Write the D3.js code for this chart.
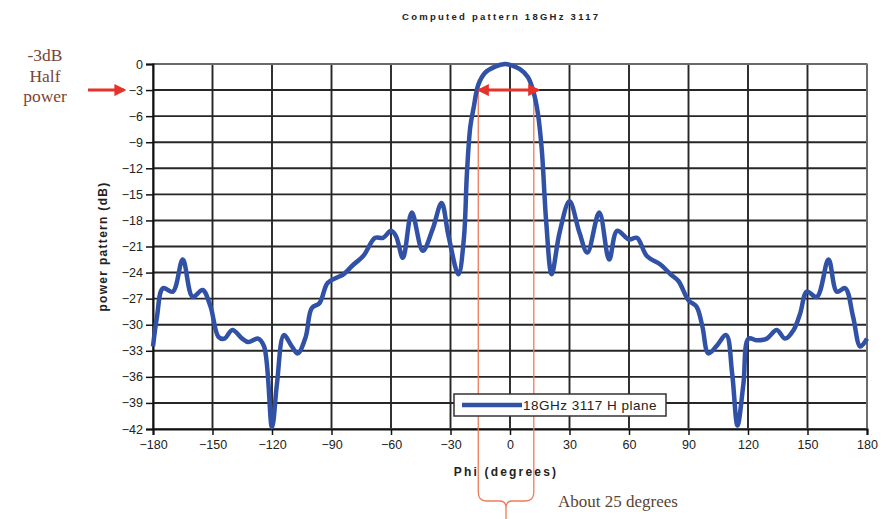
<!DOCTYPE html>
<html>
<head>
<meta charset="utf-8">
<script src="https://cdn.jsdelivr.net/npm/d3@7"></script>
<style>
  body { margin: 0; background: #fff; }
</style>
</head>
<body>
<div id="chart"></div>
<script>
// angle (degrees) and power (dB)
const phi = [-180, -178, -175, -170, -165, -160, -155, -151, -147, -144, -140, -135, -132, -127, -124,
  -120, -117.5, -114, -110, -107, -103, -100, -96, -92, -87.5, -84, -79, -74, -68, -64, -60, -57.5,
  -54, -49.5, -44, -39, -34.5, -31, -26, -23.3, -21.7, -20, -18.3, -16, -12.5, -7.5, -2.5, 0,
  5, 9, 11.7, 14, 16, 18.3, 21, 25, 30, 35, 39, 45, 50, 54, 60, 64, 69, 76, 81, 85, 90, 94, 97,
  100, 104, 109, 112, 114.7, 117.7, 120.3, 124.5, 129.5, 134.5, 138.7, 143, 146.3, 149.7, 154.7,
  160.6, 164.8, 169, 173, 176.6, 180];
const power = [-32.5, -29.1, -25.8, -26.2, -22.5, -26.8, -26, -27.9, -31.4, -31.6, -30.6, -31.6, -32, -31.6, -32.5,
  -41.8, -36.8, -31.2, -32.5, -33.3, -31.4, -28.1, -27.5, -25.2, -24.6, -24.2, -23.1, -22.1, -20, -20, -19.2, -19.8,
  -22.3, -17.1, -21.5, -19, -16, -19.8, -24.2, -20.2, -12.5, -7.2, -5, -2.4, -1, -0.3, 0, -0.1,
  -0.6, -1.5, -3.1, -5.6, -9.8, -18.3, -24.2, -19.4, -15.8, -19.4, -21.7, -17.1, -22.5, -19.2, -20.2, -20, -22.1, -23.1, -24.2, -25, -27.2, -27.9, -30.2,
  -33.3, -32.5, -31.2, -35.6, -41.6, -36.8, -31.6, -31.8, -31.6, -30.6, -31.6, -30.6, -28.7, -26.2, -26.8,
  -22.5, -26.2, -25.8, -29.1, -32.5, -31.6];
const xTicks = d3.range(-180, 181, 30);
const yTicks = d3.range(0, -43, -3);
const halfPower = [-16, 12];   // -3 dB crossing points
const seriesName = "18GHz 3117 H plane";

const W = 888, H = 519;
const margin = { top: 64, right: 21, bottom: 90, left: 153 };
const sans = "'Liberation Sans', Arial, sans-serif";
const serif = "'Liberation Serif', 'DejaVu Serif', serif";

const svg = d3.select("#chart").append("svg")
  .attr("width", W).attr("height", H)
  .style("font-family", sans);
svg.append("rect").attr("width", W).attr("height", H).attr("fill", "#fff");

const x = d3.scaleLinear().domain([-180, 180]).range([margin.left, W - margin.right]);
const y = d3.scaleLinear().domain([0, -42]).range([margin.top, H - margin.bottom]);

// title
svg.append("text")
  .attr("x", 500).attr("y", 20)
  .attr("text-anchor", "middle")
  .attr("font-size", 9.5).attr("font-weight", "bold")
  .attr("textLength", 196).attr("lengthAdjust", "spacing")
  .attr("fill", "#222")
  .text("Computed pattern 18GHz 3117");

// grid
svg.append("g").selectAll("line").data(xTicks).join("line")
  .attr("x1", d => x(d)).attr("x2", d => x(d))
  .attr("y1", y(0)).attr("y2", y(-42))
  .attr("stroke", "#262626").attr("stroke-width", 1.9);
svg.append("g").selectAll("line").data(yTicks).join("line")
  .attr("x1", x(-180)).attr("x2", x(180))
  .attr("y1", d => y(d)).attr("y2", d => y(d))
  .attr("stroke", "#262626").attr("stroke-width", 1.9);
svg.append("rect")
  .attr("x", x(-180)).attr("y", y(0))
  .attr("width", x(180) - x(-180)).attr("height", y(-42) - y(0))
  .attr("fill", "none").attr("stroke", "#808080").attr("stroke-width", 1.5);

// axes
const yAxis = svg.append("g")
  .attr("transform", `translate(${x(-180)},0)`)
  .call(d3.axisLeft(y).tickValues(yTicks).tickSize(7).tickPadding(3).tickFormat(d3.format("d")));
const xAxis = svg.append("g")
  .attr("transform", `translate(0,${y(-42)})`)
  .call(d3.axisBottom(x).tickValues(xTicks).tickSize(6).tickPadding(5));
[xAxis, yAxis].forEach(a => {
  a.select(".domain").attr("stroke", "#111").attr("stroke-width", 2);
  a.selectAll(".tick line").attr("stroke", "#111").attr("stroke-width", 1.5);
  a.selectAll(".tick text").attr("font-size", 12.5).attr("fill", "#222")
    .style("font-family", sans);
});

// axis titles
svg.append("text")
  .attr("x", 506).attr("y", 476)
  .attr("text-anchor", "middle")
  .attr("font-size", 12).attr("font-weight", "bold").attr("letter-spacing", 2.2)
  .attr("fill", "#222")
  .text("Phi (degrees)");
svg.append("text")
  .attr("transform", `translate(107,${(y(0) + y(-42)) / 2}) rotate(-90)`)
  .attr("text-anchor", "middle")
  .attr("font-size", 12).attr("font-weight", "bold").attr("letter-spacing", 1.3)
  .attr("fill", "#222")
  .text("power pattern (dB)");

// half-power reference lines and brace
const xl = x(halfPower[0]), xr = x(halfPower[1]);
const xm = (xl + xr) / 2;
svg.append("g").selectAll("line").data(halfPower).join("line")
  .attr("x1", d => x(d)).attr("x2", d => x(d))
  .attr("y1", y(-3)).attr("y2", 492)
  .attr("stroke", "#f07a5a").attr("stroke-width", 1.3);
svg.append("path")
  .attr("d", `M${xl},492 Q${xl},501 ${xl + 8},501 L${xm - 6},501 Q${xm},501 ${xm},508 L${xm},519
              M${xr},492 Q${xr},501 ${xr - 8},501 L${xm + 6},501 Q${xm},501 ${xm},508`)
  .attr("fill", "none").attr("stroke", "#f07a5a").attr("stroke-width", 1.3);

// data line
const line = d3.line()
  .x((d, i) => x(phi[i]))
  .y(d => y(d))
  .curve(d3.curveCatmullRom.alpha(0.5));
svg.append("path")
  .datum(power)
  .attr("d", line)
  .attr("fill", "none")
  .attr("stroke", "#3051a6")
  .attr("stroke-width", 4.5)
  .attr("stroke-linejoin", "round");

// red arrows
const defs = svg.append("defs");
defs.append("marker").attr("id", "head")
  .attr("viewBox", "0 0 10 10").attr("refX", 8).attr("refY", 5)
  .attr("markerWidth", 4).attr("markerHeight", 4).attr("orient", "auto-start-reverse")
  .append("path").attr("d", "M0,0 L10,5 L0,10 z").attr("fill", "#e5332a");
svg.append("line")
  .attr("x1", 88).attr("x2", 124).attr("y1", y(-3)).attr("y2", y(-3))
  .attr("stroke", "#e5332a").attr("stroke-width", 3)
  .attr("marker-end", "url(#head)");
svg.append("line")
  .attr("x1", xl + 1).attr("x2", xr + 4).attr("y1", y(-3)).attr("y2", y(-3))
  .attr("stroke", "#e5332a").attr("stroke-width", 3)
  .attr("marker-start", "url(#head)").attr("marker-end", "url(#head)");

// legend
const lg = svg.append("g").attr("transform", "translate(454,394)");
lg.append("rect").attr("width", 212).attr("height", 22)
  .attr("fill", "#fff").attr("stroke", "#333").attr("stroke-width", 1.5);
lg.append("line").attr("x1", 8).attr("x2", 68).attr("y1", 11).attr("y2", 11)
  .attr("stroke", "#3051a6").attr("stroke-width", 4.5);
lg.append("text").attr("x", 69).attr("y", 16)
  .attr("font-size", 13.5).attr("letter-spacing", 0.5).attr("fill", "#222")
  .text(seriesName);

// annotations
svg.append("g").selectAll("text").data(["-3dB", "Half", "power"]).join("text")
  .attr("x", 45).attr("y", (d, i) => 61 + i * 20.5)
  .attr("text-anchor", "middle")
  .style("font-family", serif).attr("font-size", 17.5)
  .attr("fill", "#7a4636")
  .text(d => d);
svg.append("text")
  .attr("x", 558).attr("y", 507)
  .style("font-family", serif).attr("font-size", 17)
  .attr("fill", "#5a4434")
  .text("About 25 degrees");
</script>
</body>
</html>
